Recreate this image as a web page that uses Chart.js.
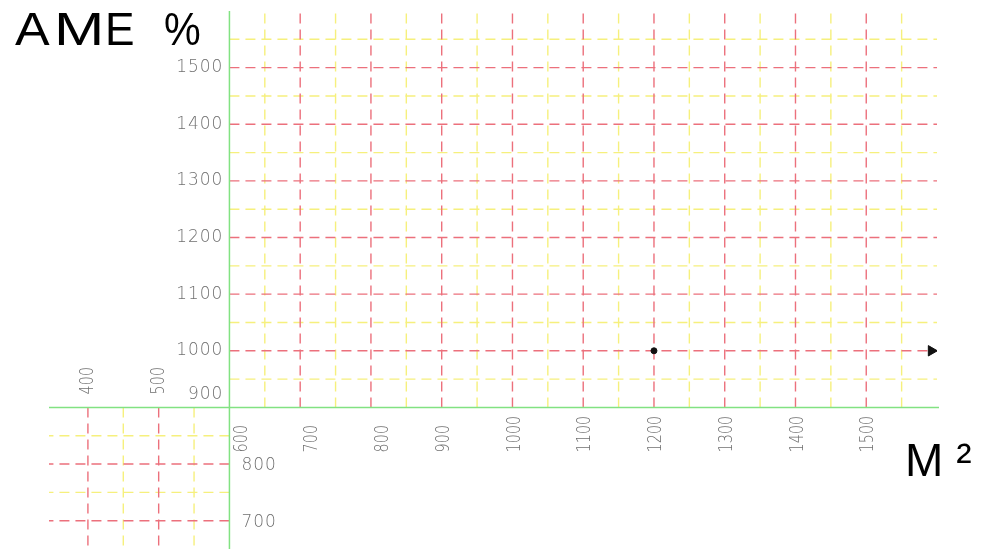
<!DOCTYPE html>
<html>
<head>
<meta charset="utf-8">
<script src="https://cdn.jsdelivr.net/npm/chart.js@4.4.1/dist/chart.umd.min.js"></script>
<style>
    body { margin: 0; background: #fff; }
    #wrap { width: 984px; height: 556px; position: relative; }
</style>
</head>
<body>
<div id="wrap"><canvas id="myChart"></canvas></div>
<script>
// DATA :
const xTicks = [400, 500, 600, 700, 800, 900, 1000, 1100, 1200, 1300, 1400, 1500];
const yTicks = [700, 800, 900, 1000, 1100, 1200, 1300, 1400, 1500];
const xMinor = [450, 550, 650, 750, 850, 950, 1050, 1150, 1250, 1350, 1450, 1550];
const yMinor = [750, 850, 950, 1050, 1150, 1250, 1350, 1450, 1550];
const pointX = [1200];
const pointY = [1000];
const arrowX = [1592];
const arrowY = [1000];
const originX = 600;
const originY = 900;
const yTitle = 'AME %';
const xTitle = 'M²';

const red = 'rgb(236, 112, 124)';
const yellow = 'rgb(246, 240, 125)';
const green = 'rgb(130, 226, 130)';
const labelFont = "200 17px 'DejaVu Sans'";

// title glyph centres and ink widths as they sit in the picture
const titleGlyphs = [[32.5, 35], [79, 42], [120.5, 25], [182.5, 35]];

// Grid + axes drawn through the chart scales :
const cadGrid = {
    id: 'cadGrid',
    beforeDatasetsDraw(chart) {
        const { ctx, scales: { x, y } } = chart;
        const ox = x.getPixelForValue(originX);
        const oy = y.getPixelForValue(originY);
        const left = x.getPixelForValue(x.min);
        const right = x.getPixelForValue(x.max);
        const top = y.getPixelForValue(y.max);
        const bottom = y.getPixelForValue(y.min);

        ctx.save();
        ctx.lineWidth = 1.4;
        ctx.setLineDash([10, 6]);

        function vLine(v, color) {
            const px = x.getPixelForValue(v);
            ctx.strokeStyle = color;
            ctx.beginPath();
            ctx.moveTo(px, oy);
            ctx.lineTo(px, v < originX ? bottom : top);
            ctx.stroke();
        }
        function hLine(v, color) {
            const py = y.getPixelForValue(v);
            ctx.strokeStyle = color;
            ctx.beginPath();
            ctx.moveTo(ox, py);
            ctx.lineTo(v < originY ? left : right, py);
            ctx.stroke();
        }

        xMinor.forEach(v => vLine(v, yellow));
        yMinor.forEach(v => hLine(v, yellow));
        xTicks.filter(v => v !== originX).forEach(v => vLine(v, red));
        yTicks.filter(v => v !== originY).forEach(v => hLine(v, red));

        // axes
        ctx.setLineDash([]);
        ctx.strokeStyle = green;
        ctx.lineWidth = 1.5;
        ctx.beginPath();
        ctx.moveTo(left, oy);
        ctx.lineTo(right + 2, oy);
        ctx.moveTo(ox, top);
        ctx.lineTo(ox, bottom);
        ctx.stroke();
        ctx.restore();
    },
    afterDraw(chart) {
        const { ctx, scales: { x, y } } = chart;
        const ox = x.getPixelForValue(originX);
        const oy = y.getPixelForValue(originY);

        ctx.save();
        ctx.fillStyle = '#707070';
        ctx.font = labelFont;
        ctx.letterSpacing = '1px';
        ctx.textBaseline = 'middle';

        // Y labels :
        yTicks.forEach(v => {
            const py = y.getPixelForValue(v);
            if (v >= originY) {
                ctx.textAlign = 'right';
                ctx.fillText(String(v), ox - 6, v === originY ? py - 13 : py);
            } else {
                ctx.textAlign = 'left';
                ctx.fillText(String(v), ox + 12, py + 2);
            }
        });

        // X labels (vertical) :
        ctx.letterSpacing = '0px';
        ctx.font = "200 20px 'DejaVu Sans'";
        ctx.textAlign = 'left';
        xTicks.forEach(v => {
            const px = x.getPixelForValue(v);
            let cx, cy;
            if (v < originX) { cx = px; cy = oy - 13; }
            else { cx = px + (v < 900 ? 12 : 2); cy = oy + 45; }
            ctx.save();
            ctx.translate(cx, cy);
            ctx.rotate(-Math.PI / 2);
            ctx.scale(0.72, 1);
            ctx.fillText(String(v), 0, 0);
            ctx.restore();
        });

        // Titles :
        ctx.fillStyle = '#000';
        ctx.font = "46px 'Liberation Sans'";
        ctx.textBaseline = 'alphabetic';
        ctx.textAlign = 'center';
        const chars = yTitle.replace(' ', '').split('');
        chars.forEach((ch, i) => {
            const m = ctx.measureText(ch);
            const l = m.actualBoundingBoxLeft, r = m.actualBoundingBoxRight;
            const inkW = l + r;
            const inkMid = (r - l) / 2;
            const [gx, gw] = titleGlyphs[i];
            const s = gw / inkW;
            ctx.save();
            ctx.translate(gx, 45);
            ctx.scale(s, 1);
            ctx.fillText(ch, -inkMid, 0);
            ctx.restore();
        });
        ctx.textAlign = 'left';
        ctx.letterSpacing = '13px';
        ctx.fillText(xTitle, 905, 476);
        ctx.restore();
    }
};

const ctx = document.getElementById('myChart').getContext('2d');

const config = {
    type: 'scatter',
    data: {
        datasets: [{
            data: pointX.map((v, i) => ({ x: v, y: pointY[i] })),
            backgroundColor: '#111',
            borderColor: '#111',
            pointRadius: 3,
        }, {
            data: arrowX.map((v, i) => ({ x: v, y: arrowY[i] })),
            backgroundColor: '#111',
            borderColor: '#111',
            pointStyle: 'triangle',
            rotation: 90,
            pointRadius: 6,
        }],
    },
    options: {
        responsive: true,
        maintainAspectRatio: false,
        animation: false,
        layout: { padding: { left: 49, right: 47, top: 11, bottom: 4 } },
        plugins: { legend: { display: false }, tooltip: { enabled: false } },
        scales: {
            x: { type: 'linear', min: 345, max: 1600, display: false },
            y: { type: 'linear', min: 650, max: 1600, display: false },
        },
    },
    plugins: [cadGrid],
};

const myChart = new Chart(ctx, config);
</script>
</body>
</html>
